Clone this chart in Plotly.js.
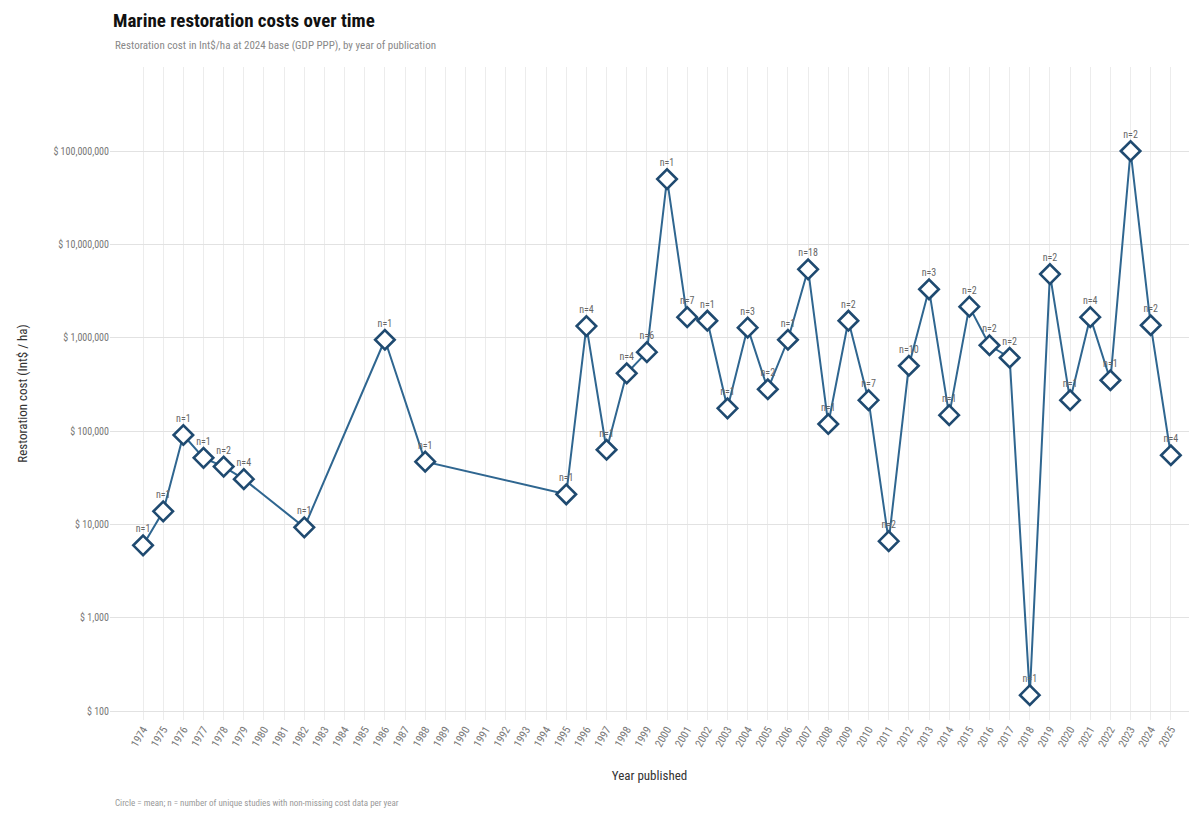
<!DOCTYPE html>
<html>
<head>
<meta charset="utf-8">
<script src="https://cdn.plot.ly/plotly-3.0.1.min.js"></script>
<style>html,body{margin:0;padding:0;background:#fff;}#chart{width:1199px;height:814px;}</style>
</head>
<body>
<div id="chart"></div>
<script>
// Years with data
const years = [1974,1975,1976,1977,1978,1979,1982,1986,1988,1995,1996,1997,1998,1999,2000,2001,2002,2003,2004,2005,2006,2007,2008,2009,2010,2011,2012,2013,2014,2015,2016,2017,2018,2019,2020,2021,2022,2023,2024,2025];
// Mean restoration cost (Int$/ha)
const meanCost = [5960,13800,90600,51600,41600,30500,9300,950000,47000,21000,1330000,63000,415000,700000,50000000,1660000,1520000,175000,1280000,280000,950000,5400000,119000,1520000,214000,6600,500000,3300000,148000,2150000,830000,610000,148,4800000,214000,1660000,350000,100000000,1360000,55000];
// Number of unique studies per year
const nStudies = [1,1,1,1,2,4,1,1,1,1,4,1,4,6,1,7,1,1,3,2,1,18,1,2,7,2,10,3,1,2,2,2,1,2,1,4,1,2,2,4];
// All x-axis tick years
const tickYears = [];
for (let y = 1974; y <= 2025; y++) tickYears.push(y);
const tickLabels = tickYears.map(String);
// y-axis ticks
const yTickVals = [100,1000,10000,100000,1000000,10000000,100000000];
const yTickText = ["$ 100","$ 1,000","$ 10,000","$ 100,000","$ 1,000,000","$ 10,000,000","$ 100,000,000"];

const FONT = "Liberation Sans Narrow, Arial Narrow, Roboto Condensed, sans-serif";

const trace = {
  type: "scatter",
  mode: "lines+markers+text",
  x: years,
  y: meanCost,
  text: nStudies.map(n => "n=" + n),
  textposition: "top center",
  textfont: {family: FONT, size: 10, color: "#666"},
  line: {color: "#2f6690", width: 2},
  marker: {symbol: "diamond", size: 15, color: "#ffffff", line: {color: "#1f4a70", width: 2.6}},
  cliponaxis: false,
  hoverinfo: "x+y"
};

const layout = {
  width: 1199, height: 814,
  paper_bgcolor: "#fff", plot_bgcolor: "#fff",
  margin: {l: 110, r: 10, t: 67, b: 94},
  font: {family: FONT, color: "#444"},
  showlegend: false,
  title: {text: "<b>Marine restoration costs over time</b>", x: 113/1199, xanchor: "left", y: 1 - 20/814, yanchor: "middle", font: {family: FONT, size: 19, color: "#111"}},
  xaxis: {
    type: "linear",
    range: [1972.36, 2025.9],
    tickvals: tickYears, ticktext: tickLabels,
    tickangle: -60,
    tickfont: {family: FONT, size: 11, color: "#777"},
    showgrid: true, gridcolor: "#ececec", gridwidth: 1,
    zeroline: false, showline: false, ticks: "",
    title: {text: "Year published", font: {family: FONT, size: 13, color: "#333"}, standoff: 22}
  },
  yaxis: {
    type: "log",
    range: [1.904, 8.9],
    tickvals: yTickVals, ticktext: yTickText,
    tickfont: {family: FONT, size: 10, color: "#777"},
    showgrid: true, gridcolor: "#e2e2e2", gridwidth: 1,
    zeroline: false, showline: false, ticks: "",
    title: {text: "Restoration cost (Int$ / ha)", font: {family: FONT, size: 13, color: "#333"}, standoff: 22}
  },
  annotations: [
    {text: "Restoration cost in Int$/ha at 2024 base (GDP PPP), by year of publication", xref: "paper", yref: "paper", x: 3/1079, y: 1 + 22/653, xanchor: "left", yanchor: "middle", showarrow: false, font: {family: FONT, size: 11, color: "#888"}},
    {text: "Circle = mean; n = number of unique studies with non-missing cost data per year", xref: "paper", yref: "paper", x: 3/1079, y: -83/653, xanchor: "left", yanchor: "middle", showarrow: false, font: {family: FONT, size: 9, color: "#999"}}
  ]
};

Plotly.newPlot("chart", [trace], layout, {displayModeBar: false, staticPlot: true});
</script>
</body>
</html>
